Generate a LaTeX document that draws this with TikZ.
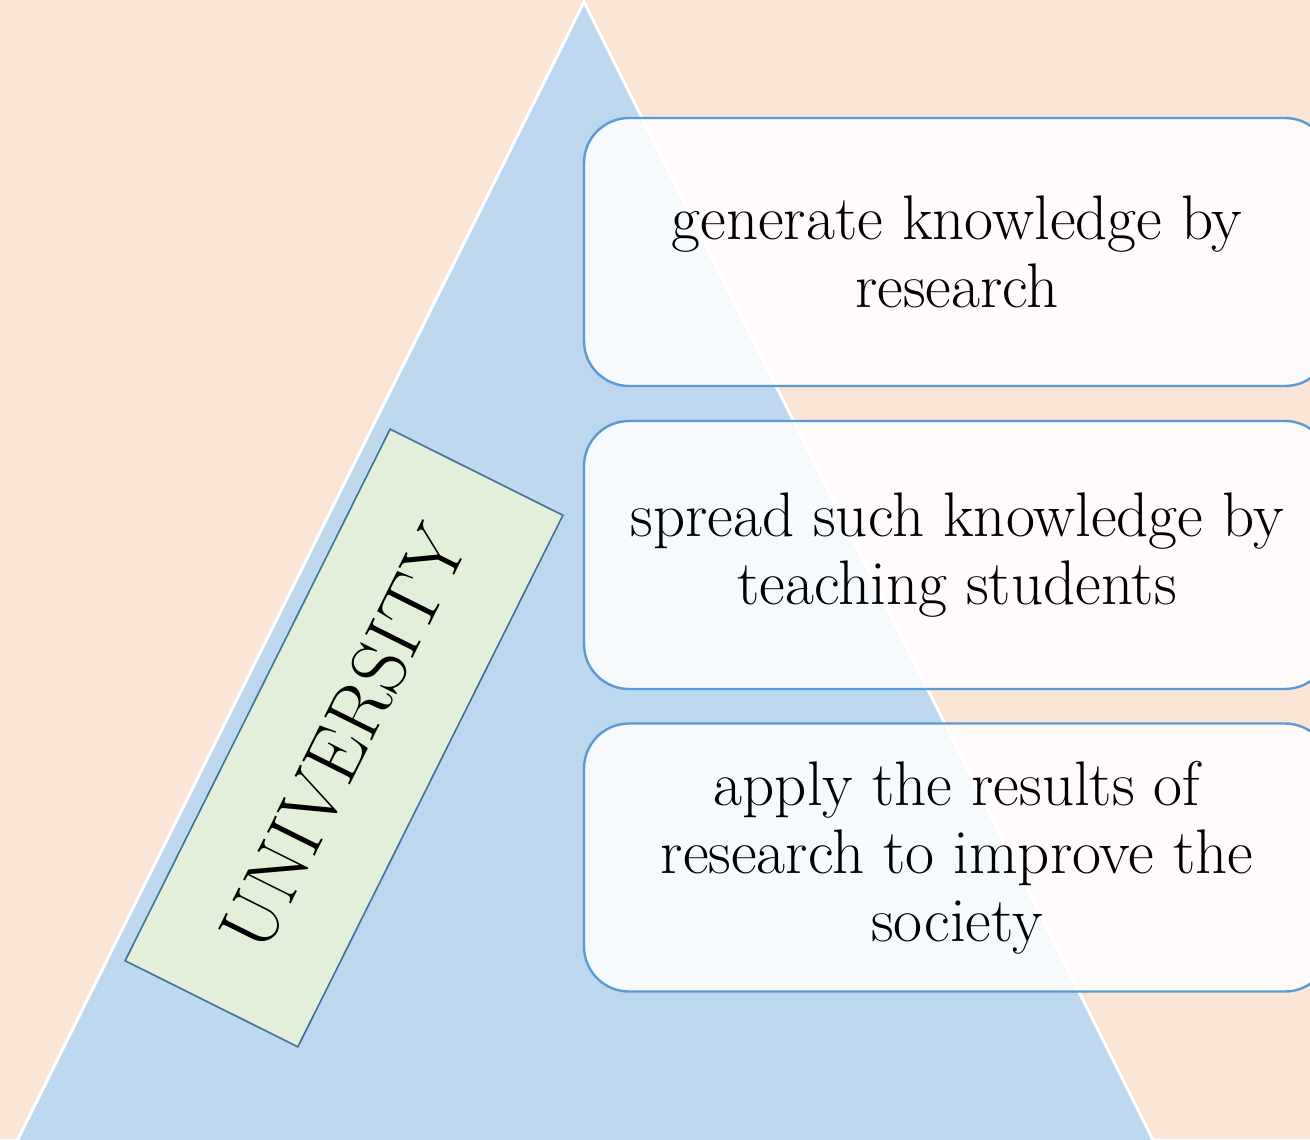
\documentclass[tikz,border=0pt]{standalone}
\definecolor{peach}{HTML}{FBE5D6}
\definecolor{triblue}{HTML}{BDD7EE}
\definecolor{uniGreen}{HTML}{E2F0D9}
\definecolor{uniLine}{HTML}{41719C}
\definecolor{boxLine}{HTML}{5B9BD5}
\begin{document}
\begin{tikzpicture}[x=0.5pt,y=-0.5pt,
  taskbox/.style={draw=boxLine, line width=1.2pt, fill=white, fill opacity=0.88, text opacity=1,
    rounded corners=22.5pt, minimum width=373pt, minimum height=134pt, inner sep=0pt,
    align=center, font=\fontsize{31.5}{34}\selectfont},
  unibox/.style={draw=uniLine, line width=0.8pt, fill=uniGreen, minimum width=297pt,
    minimum height=96.5pt, inner sep=0pt, font=\fontsize{39}{42}\selectfont}]
\useasboundingbox (0,0) rectangle (1310,1139);
\clip (0,0) rectangle (1310,1139);
\fill[peach] (0,0) rectangle (1310,1139);
\draw[white, line width=1.5pt, fill=triblue] (584,2) -- (1163,1160) -- (7.5,1160) -- cycle;
\node[unibox, rotate=63.5] (uni) at (344,738) {UNIVERSITY};
\node[taskbox] (t1) at (957,252) {generate knowledge by\\research};
\node[taskbox] (t2) at (957,555) {spread such knowledge by\\teaching students};
\node[taskbox] (t3) at (957,857.5) {apply the results of\\research to improve the\\society};
\end{tikzpicture}
\end{document}
